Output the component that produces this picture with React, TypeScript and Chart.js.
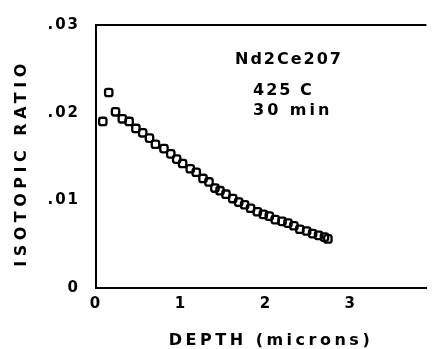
import React, { useEffect, useRef } from "react";
import { Chart, registerables } from "chart.js";

Chart.register(...registerables);

const depth = [0.08, 0.15, 0.23, 0.31, 0.39, 0.47, 0.55, 0.63, 0.70, 0.80, 0.88, 0.95, 1.02, 1.11, 1.18, 1.26, 1.33, 1.40, 1.46, 1.53, 1.61, 1.68, 1.75, 1.82, 1.90, 1.97, 2.04, 2.11, 2.19, 2.26, 2.33, 2.40, 2.48, 2.55, 2.62, 2.69, 2.73];
const ratio = [0.0190, 0.0223, 0.0201, 0.0193, 0.0190, 0.0182, 0.0177, 0.0171, 0.0164, 0.0159, 0.0153, 0.0147, 0.0142, 0.0136, 0.0132, 0.0125, 0.0121, 0.0114, 0.0111, 0.0107, 0.0102, 0.0098, 0.0095, 0.0091, 0.0087, 0.0084, 0.0082, 0.0078, 0.0076, 0.0074, 0.0071, 0.0067, 0.0065, 0.0062, 0.0060, 0.0058, 0.0056];
const xTicks = [0, 1, 2, 3];
const yTicks = [0, 0.01, 0.02, 0.03];
const annotation = ["Nd2Ce207", "425 C", "30 min"];
const xTitle = "DEPTH (microns)";
const yTitle = "ISOTOPIC RATIO";

const FONT = '"DejaVu Sans", sans-serif';

const spacingPlugin = {
  id: "spacing",
  beforeLayout(chart: any) {
    chart.ctx.letterSpacing = "2px";
  },
  beforeDraw(chart: any) {
    chart.ctx.letterSpacing = "2px";
  },
  afterDraw(chart: any) {
    const ctx = chart.ctx;
    const { left, right, top } = chart.chartArea;
    ctx.save();
    ctx.strokeStyle = "#000";
    ctx.lineWidth = 2;
    ctx.beginPath();
    ctx.moveTo(left, top);
    ctx.lineTo(right, top);
    ctx.stroke();
    ctx.fillStyle = "#000";
    ctx.font = `bold 16px ${FONT}`;
    ctx.textBaseline = "middle";
    ctx.textAlign = "left";
    ctx.letterSpacing = "2px";
    ctx.fillText(annotation[0], 235, 60);
    ctx.fillText(annotation[1], 253, 91);
    ctx.letterSpacing = "3px";
    ctx.fillText(annotation[2], 253, 111);
    ctx.textAlign = "center";
    ctx.letterSpacing = "3.5px";
    ctx.fillText(xTitle, 271, 341);
    ctx.translate(22, 165);
    ctx.rotate(-Math.PI / 2);
    ctx.letterSpacing = "4.5px";
    ctx.fillText(yTitle, 2, 0);
    ctx.restore();
  },
};

export default function App() {
  const ref = useRef<HTMLCanvasElement>(null);
  useEffect(() => {
    const canvas = ref.current!;
    const chart = new Chart(canvas, {
      type: "scatter",
      data: {
        datasets: [
          {
            data: depth.map((d, i) => ({ x: d, y: ratio[i] })),
            pointStyle: "rectRounded",
            pointRadius: 4.3,
            pointBorderWidth: 2.3,
            borderColor: "#000",
            backgroundColor: "rgba(255,255,255,0)",
          },
        ],
      },
      options: {
        animation: false,
        responsive: false,
        events: [],
        layout: { padding: { top: 12, right: 0, left: 0, bottom: 0 } },
        plugins: { legend: { display: false }, tooltip: { enabled: false } },
        scales: {
          x: {
            type: "linear",
            min: 0,
            max: 3.89,
            afterBuildTicks: (axis: any) => {
              axis.ticks = xTicks.map((v) => ({ value: v }));
            },
            afterFit: (axis: any) => {
              axis.height = 61;
            },
            grid: { display: false, drawTicks: false },
            border: { display: true, color: "#000", width: 2 },
            ticks: {
              padding: 7,
              color: "#000",
              maxRotation: 0,
              font: { family: FONT, size: 15, weight: "bold" },
              callback: (v: any) => String(v),
            },
          },
          y: {
            type: "linear",
            min: 0,
            max: 0.03,
            afterBuildTicks: (axis: any) => {
              axis.ticks = yTicks.map((v) => ({ value: v }));
            },
            afterFit: (axis: any) => {
              axis.width = 96;
            },
            grid: { display: false, drawTicks: false },
            border: { display: true, color: "#000", width: 2 },
            ticks: {
              padding: 16,
              color: "#000",
              font: { family: FONT, size: 15, weight: "bold" },
              callback: (v: any) => (v === 0 ? "0" : ".0" + Math.round(v * 100)),
            },
          },
        },
      },
      plugins: [spacingPlugin],
    });
    return () => chart.destroy();
  }, []);
  return (
    <div style={{ position: "fixed", left: 0, top: 0, width: 433, height: 349, background: "#fff" }}>
      <canvas ref={ref} width={433} height={349} />
    </div>
  );
}
